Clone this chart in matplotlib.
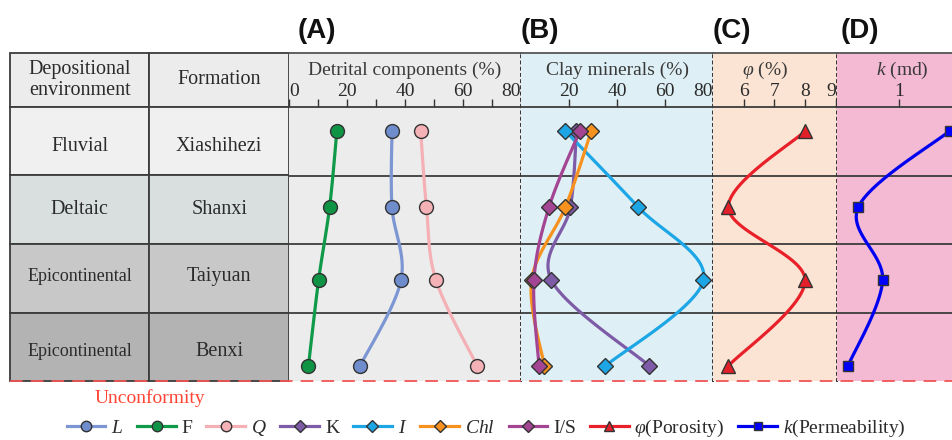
import numpy as np
import matplotlib
matplotlib.use("Agg")
import matplotlib.pyplot as plt
from matplotlib.patches import Rectangle
from matplotlib.lines import Line2D
from matplotlib.ticker import NullLocator

plt.rcParams["font.family"] = ["Liberation Serif", "DejaVu Serif"]
plt.rcParams["mathtext.fontset"] = "custom"
plt.rcParams["mathtext.rm"] = "Liberation Serif"
plt.rcParams["mathtext.it"] = "Liberation Serif:italic"

W, H = 953, 440

# formations, top to bottom
environments = ["Fluvial", "Deltaic", "Epicontinental", "Epicontinental"]
formations = ["Xiashihezi", "Shanxi", "Taiyuan", "Benxi"]
sample_depth = [0.35, 1.46, 2.53, 3.78]   # sample position inside the formation rows

# detrital components (%)
lithic = [35.5, 35.5, 38.6, 24.5]
feldspar = [16.5, 14.0, 10.2, 6.7]
quartz = [45.4, 47.4, 50.7, 64.9]

# clay minerals (%)
kaolinite = [23.1, 20.6, 12.7, 53.5]
illite = [18.5, 48.8, 76.0, 35.2]
chlorite = [29.3, 18.5, 4.4, 9.7]
illite_smectite = [24.5, 11.7, 5.4, 7.5]

porosity = [8.0, 5.5, 8.0, 5.5]        # %
permeability = [6.4, 0.22, 0.54, 0.15]  # md

TEXT = "#2b2b2b"
GRID = "#3c3c3c"
HDR = 54 / 68.5   # header height in row units


def box(x0, y0, x1, y1):
    return [x0 / W, 1 - y1 / H, (x1 - x0) / W, (y1 - y0) / H]


def smooth_path(ax, xs, ys, n=40):
    # catmull-rom through the points, done in screen space
    pts = ax.transData.transform(np.column_stack([xs, ys]))
    pts = np.vstack([pts[0], pts, pts[-1]])
    t = np.linspace(0, 1, n)[:, None]
    segs = []
    for i in range(1, len(pts) - 2):
        p0, p1, p2, p3 = pts[i - 1:i + 3]
        segs.append(0.5 * (2 * p1 + (p2 - p0) * t
                           + (2 * p0 - 5 * p1 + 4 * p2 - p3) * t ** 2
                           + (3 * p1 - p0 - 3 * p2 + p3) * t ** 3))
    curve = ax.transData.inverted().transform(np.vstack(segs))
    return curve[:, 0], curve[:, 1]


fig = plt.figure(figsize=(W / 100, H / 100), dpi=100)

# ---- left table
ax_t = fig.add_axes(box(10, 53, 289, 381))
ax_t.set_xlim(0, 2)
ax_t.set_ylim(4, -HDR)
ax_t.axis("off")
row_colors = ["#f0f0f0", "#d9dfdf", "#c8c8c8", "#b3b3b3"]
text_shift = [0.08, 0.0, -0.02, 0.07]
for c in range(2):
    ax_t.add_patch(Rectangle((c, -HDR), 1, HDR, fc="#ececec", ec=GRID, lw=1.3, clip_on=False))
    for r in range(4):
        ax_t.add_patch(Rectangle((c, r), 1, 1, fc=row_colors[r], ec=GRID, lw=1.3, clip_on=False))
ax_t.text(0.5, -HDR / 2, "Depositional\nenvironment", ha="center", va="center",
          fontsize=14.5, linespacing=1.15, color=TEXT)
ax_t.text(1.5, -HDR / 2, "Formation", ha="center", va="center", fontsize=14.5, color=TEXT)
for r in range(4):
    fs = 13 if environments[r] == "Epicontinental" else 14.5
    y = r + 0.5 + text_shift[r]
    ax_t.text(0.5, y, environments[r], ha="center", va="center", fontsize=fs, color=TEXT)
    ax_t.text(1.5, y, formations[r], ha="center", va="center", fontsize=14.5, color=TEXT)

# ---- log panels
panels = [
    # x0, x1, colour, xlim, title, title x, ticks, labels, log
    (289, 521, "#ececec", (0, 80), "Detrital components (%)", 40,
     [0, 10, 20, 30, 40, 50, 60, 70, 80], ["0", "", "20", "", "40", "", "60", "", "80"], False),
    (521, 713, "#def0f5", (0, 80), "Clay minerals (%)", 40,
     [20, 40, 60, 80], ["20", "40", "60", "80"], False),
    (713, 837, "#fbe4d3", (5, 9.04), r"$\varphi$ (%)", 6.7,
     [6, 7, 8, 9], ["6", "7", "8", "9"], False),
    (837, 965, "#f4b9d3", (0.1, 11.34), r"$k$ (md)", 1.1,
     [1, 10], ["1", ""], True),
]

axes = []
for i, (x0, x1, bg, xlim, title, tx, ticks, labels, log) in enumerate(panels):
    ax = fig.add_axes(box(x0, 107, x1, 381), facecolor=bg)
    axh = fig.add_axes(box(x0, 53, x1, 107), facecolor=bg, sharex=ax)
    if log:
        ax.set_xscale("log")
    ax.set_xlim(*xlim)
    ax.set_ylim(4, 0)
    ax.set_yticks([])
    axh.set_yticks([])
    ax.tick_params(axis="x", bottom=False, labelbottom=False)
    axh.set_xticks(ticks)
    axh.set_xticklabels(labels)
    axh.xaxis.set_minor_locator(NullLocator())
    axh.tick_params(axis="x", direction="in", length=6, width=1, color="#333333",
                    labelsize=14, pad=-17, labelcolor=TEXT)
    tl = axh.get_xticklabels()
    if i < 2:
        if labels[0] == "0":
            tl[0].set_ha("left")
        tl[-1].set_ha("right")
    elif i == 2:
        tl[-1].set_ha("right")
    axh.text(tx, 0.685, title, transform=axh.get_xaxis_transform(), ha="center",
             va="center", fontsize=14, color="#3a3a3a")
    for r in (1, 2, 3):
        ax.axhline(r, color=GRID, lw=1.3, zorder=1)
    for a in (ax, axh):
        a.spines["left"].set_visible(False)
        a.spines["right"].set_visible(i < 3)
        a.spines["right"].set_linestyle((0, (1, 2.2)))
        a.spines["right"].set_color("#333333")
        a.spines["right"].set_linewidth(1.4)
    ax.spines["top"].set_visible(False)
    ax.spines["bottom"].set_visible(False)
    axh.spines["top"].set_color("#555555")
    axh.spines["top"].set_linewidth(1.3)
    axh.spines["bottom"].set_color(GRID)
    axh.spines["bottom"].set_linewidth(1.3)
    axes.append(ax)

handles = []


def draw(ax, xs, color, marker, ms, label, face=None, z=3, lw=2.3):
    cx, cy = smooth_path(ax, xs, sample_depth)
    ax.plot(cx, cy, color=color, lw=lw, solid_capstyle="round", zorder=z)
    ax.plot(xs, sample_depth, ls="none", marker=marker, ms=ms, mfc=face or color,
            mec="#333333", mew=1, zorder=z + 0.5, clip_on=False)
    handles.append(Line2D([], [], color=color, lw=lw, marker=marker, ms=ms * 0.75,
                          mfc=face or color, mec="#333333", mew=1, label=label))


draw(axes[0], lithic, "#7b96d2", "o", 10, "$L$", face="#6f8ccc")
draw(axes[0], feldspar, "#0e9a48", "o", 10, "F", face="#0f9445")
draw(axes[0], quartz, "#f4b0b4", "o", 10, "$Q$", face="#f5b2b6")
draw(axes[1], kaolinite, "#7d5ba6", "D", 8, "K", z=3)
draw(axes[1], illite, "#1ca6e6", "D", 8, "$I$", z=4)
draw(axes[1], chlorite, "#f7921e", "D", 8, "$Chl$", z=5)
draw(axes[1], illite_smectite, "#a34592", "D", 8, "I/S", z=6)
draw(axes[2], porosity, "#e8202a", "^", 10, r"$\varphi$(Porosity)", face="#e3202a")
draw(axes[3], permeability, "#0000f0", "s", 7.5, r"$k$(Permeability)", face="#0000ff")

# unconformity at the base
fig.add_artist(Line2D([10 / W, 1], [1 - 381 / H] * 2, transform=fig.transFigure,
                      color="#f05555", lw=1.3, ls=(0, (7, 4.5)), zorder=10))
fig.text(150 / W, 1 - 398 / H, "Unconformity", ha="center", va="center",
         fontsize=14, color="#ff4433")

for lab, x in zip(["(A)", "(B)", "(C)", "(D)"], [317, 540, 732, 860]):
    fig.text(x / W, 1 - 31 / H, lab, ha="center", va="center", fontsize=20,
             fontweight="bold", family="Liberation Sans", color="#111111")

fig.legend(handles=handles, loc="center", bbox_to_anchor=(486 / W, 1 - 428 / H),
           ncol=9, frameon=False, fontsize=14, handlelength=2.0, handletextpad=0.3,
           columnspacing=0.7, borderaxespad=0, labelcolor=TEXT)

fig.savefig("out.png", dpi=100)
